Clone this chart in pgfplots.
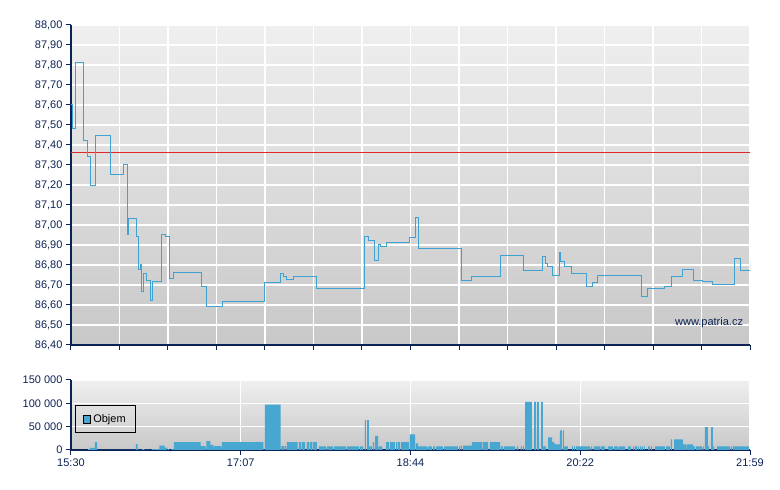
\documentclass[border=0pt]{standalone}
\usepackage{pgfplots}
\pgfplotsset{compat=1.18}
\usepackage{fontspec}
\setmainfont{Liberation Sans}
\definecolor{navy}{HTML}{0C2355}
\definecolor{lineblue}{HTML}{3EA2D2}
\definecolor{barblue}{HTML}{47A7D0}
\definecolor{bgtop}{HTML}{EFEFEF}
\definecolor{bgbot}{HTML}{C8C8C8}
\definecolor{refred}{HTML}{E02828}
\begin{document}
\begin{tikzpicture}
\useasboundingbox (0pt,0pt) rectangle (780pt,490pt);
\pgfplotsset{
  chartbase/.style={
    scale only axis,
    width=679pt,
    xmin=0, xmax=389,
    axis x line*=bottom,
    axis y line*=left,
    axis line style={navy, line width=1.2pt},
    tick style={navy, line width=1pt},
    tick align=outside,
    major tick length=5pt,
    grid=major,
    major grid style={white, line width=1.2pt},
    axis background/.style={top color=bgtop, bottom color=bgbot},
    ticklabel style={font=\fontsize{11}{12}\selectfont, text=navy},
    /pgf/number format/assume math mode=true,
  }
}
\begin{axis}[chartbase, at={(71pt,145pt)}, anchor=south west, height=320pt,
  ymin=86.4, ymax=88.0,
  ytick={86.4,86.5,86.6,86.7,86.8,86.9,87.0,87.1,87.2,87.3,87.4,87.5,87.6,87.7,87.8,87.9,88.0},
  yticklabel style={/pgf/number format/.cd, fixed, fixed zerofill, precision=2, use comma},
  xtick={0,27.79,55.57,83.36,111.14,138.93,166.71,194.5,222.29,250.07,277.86,305.64,333.43,361.21,389},
  xticklabels={},
]
\addplot[refred, line width=0.8pt] coordinates {(0,87.365) (389,87.365)};
\addplot[const plot, lineblue, line width=1pt] coordinates {
(0,87.60) (0.6,87.48) (2.3,87.81) (6.9,87.42) (9.5,87.34) (11.2,87.195) (14.0,87.447)
(22.9,87.25) (30.1,87.30) (32.1,86.95) (33.2,87.03) (37.8,86.94) (38.7,86.775) (39.7,86.80)
(40.4,86.665) (41.3,86.755) (43.0,86.72) (45.4,86.62) (46.8,86.715) (51.6,86.95) (54.4,86.94)
(56.2,86.73) (59.0,86.76) (74.5,86.69) (77.9,86.59) (86.9,86.615) (110.6,86.71) (120.3,86.755)
(121.5,86.74) (123.2,86.725) (127.2,86.74) (140.9,86.68) (168.4,86.94) (170.7,86.92)
(173.9,86.82) (175.9,86.90) (177.3,86.89) (181.0,86.91) (194.2,86.935) (197.4,87.035)
(198.8,86.88) (224.0,86.72) (229.7,86.74) (246.1,86.845) (259.2,86.77) (270.4,86.84)
(271.6,86.805) (272.7,86.79) (275.9,86.745) (279.9,86.86) (280.7,86.815) (282.7,86.79)
(286.7,86.755) (295.3,86.69) (298.5,86.71) (301.6,86.745) (326.9,86.64) (330.0,86.68)
(340.3,86.69) (344.3,86.74) (350.6,86.775) (356.4,86.72) (361.5,86.715) (367.5,86.70)
(380.4,86.83) (383.6,86.77) (389.0,86.82)
};
\node[anchor=east, inner sep=0pt, text=navy, font=\fontsize{11}{12}\selectfont] at (rel axis cs:0.99,0.069) {www.patria.cz};
\end{axis}
\begin{axis}[chartbase, at={(71pt,40pt)}, anchor=south west, height=70pt,
  ymin=0, ymax=150000,
  ytick={0,50000,100000,150000},
  yticklabels={0,50 000,100 000,150 000},
  scaled y ticks=false,
  xtick={0,97.25,194.5,291.75,389},
  xticklabels={15:30,17:07,18:44,20:22,21:59},
  legend style={at={(0.006,0.643)}, anchor=north west, draw=black, line width=0.8pt, fill=none,
    font=\fontsize{11}{12}\selectfont, inner xsep=7.5pt, inner ysep=7pt},
]
\addplot[ybar interval, fill=barblue, draw=none,
  legend image code/.code={\draw[fill=barblue, draw=black, line width=0.8pt] (0pt,-3.8pt) rectangle (7.5pt,3.8pt);}]
coordinates {
(9.7,2000) (10.9,4500) (13.7,17000) (14.9,0)
(37.2,12500) (38.1,0)
(40.7,2000) (42.1,0)
(43.8,1000) (44.4,0)
(46.4,2000) (50.7,9500) (53.6,5000) (55.0,0)
(55.6,2000) (56.1,0)
(57.6,2000) (58.7,0)
(59.0,17000) (74.2,8500) (77.1,0)
(77.6,19000) (78.7,0)
(78.9,19000) (79.8,0)
(80.0,11000) (81.5,0)
(81.8,8500) (86.1,0)
(86.5,17000) (110.2,0)
(111.0,97000) (120.1,0)
(120.5,8500) (122.0,0)
(122.4,8500) (123.2,0)
(123.7,17000) (129.9,0)
(130.6,17000) (131.8,0)
(132.2,17000) (134.1,0)
(135.2,17000) (136.4,0)
(136.9,17000) (138.1,0)
(138.6,17000) (140.9,0)
(142.1,8000) (146.1,0)
(146.7,8000) (150.1,0)
(150.7,8000) (157.5,0)
(158.1,8000) (165.0,0)
(165.6,8000) (167.3,0)
(168.4,64000) (169.0,0)
(169.6,64000) (170.7,8000) (172.4,0)
(173.0,17000) (173.6,0)
(174.2,30000) (175.9,0)
(176.3,8000) (178.2,0)
(180.5,17000) (182.2,0)
(182.8,17000) (185.6,0)
(186.2,17000) (186.8,0)
(187.3,17000) (188.5,0)
(189.1,17000) (193.6,0)
(194.2,33500) (197.1,0)
(197.6,14000) (198.8,8000) (204.0,0)
(204.5,8000) (206.8,0)
(207.4,8000) (208.5,0)
(209.1,8000) (213.1,0)
(213.7,8000) (221.7,0)
(222.3,8000) (222.9,0)
(223.4,9500) (224.0,0)
(224.6,9500) (229.7,17000) (235.5,0)
(236.0,17000) (238.9,0)
(240.0,17000) (245.8,0)
(246.3,8000) (247.5,0)
(248.1,8000) (254.4,0)
(255.5,8000) (256.1,0)
(257.8,8000) (258.4,0)
(259.0,8000) (259.5,0)
(260.1,103000) (264.1,0)
(265.3,103000) (266.4,0)
(267.0,103000) (268.1,0)
(269.3,103000) (270.4,8000) (272.1,0)
(273.3,27000) (275.6,17000) (276.7,14000) (277.3,12000) (280.1,42000) (281.3,0)
(281.9,42000) (282.4,8000) (284.7,0)
(287.0,8000) (287.6,0)
(288.2,8000) (288.7,0)
(289.3,8000) (297.3,0)
(297.9,8000) (298.5,0)
(299.6,8000) (303.1,0)
(303.6,8000) (305.9,0)
(307.6,8000) (310.5,0)
(311.1,8000) (313.4,0)
(313.9,8000) (317.4,0)
(319.1,8000) (320.8,0)
(322.0,8000) (322.5,0)
(323.1,8000) (324.3,0)
(324.8,8000) (325.4,0)
(326.0,8000) (326.6,0)
(327.1,8000) (327.7,0)
(328.3,8000) (328.8,0)
(330.6,8000) (331.7,0)
(332.3,8000) (332.9,0)
(334.6,8000) (340.3,0)
(340.9,8000) (343.2,0)
(343.7,22500) (344.3,0)
(345.5,22500) (350.6,12000) (352.6,0)
(352.9,12000) (356.3,8000) (357.5,0)
(358.1,8000) (361.5,0)
(362.1,8000) (362.6,0)
(363.2,49000) (364.9,8000) (365.5,0)
(366.7,49000) (367.8,8000) (368.4,0)
(370.1,8000) (377.5,0)
(378.1,8000) (378.7,0)
(379.3,8000) (388.4,0)
};
\addlegendentry{Objem}
\end{axis}
\end{tikzpicture}
\end{document}
